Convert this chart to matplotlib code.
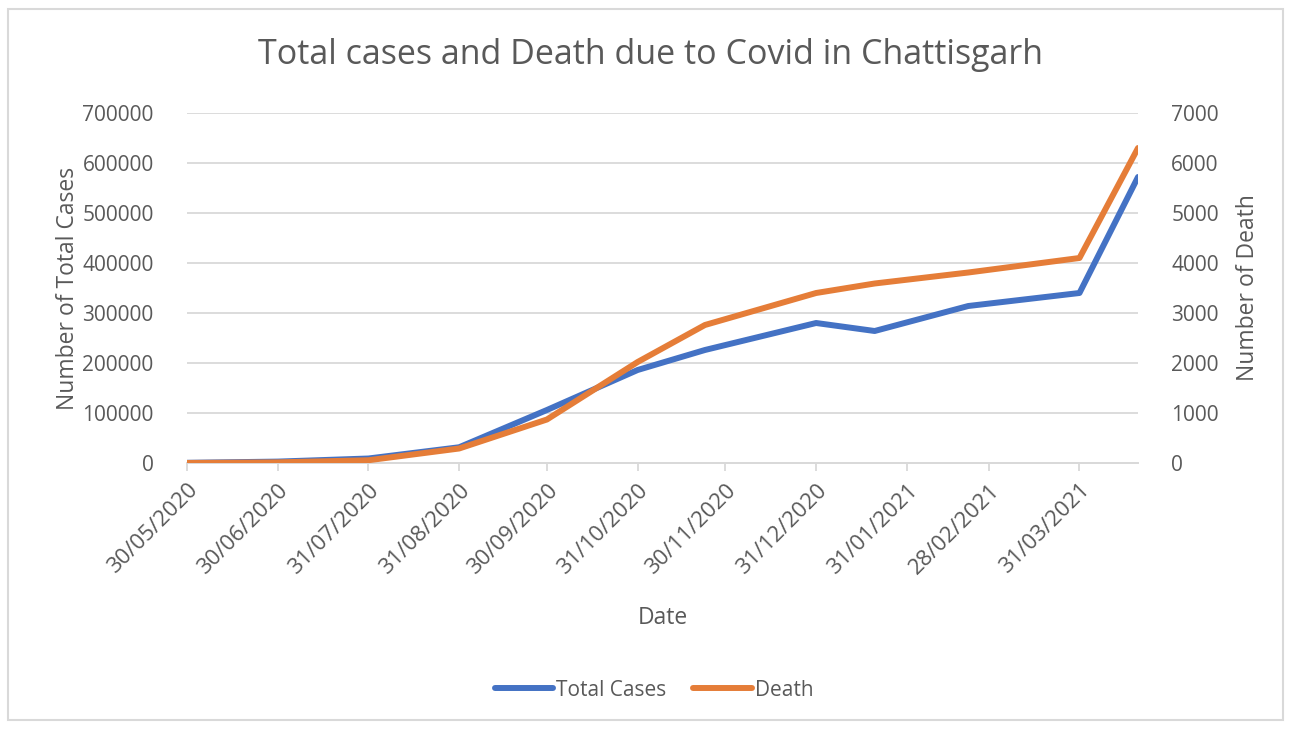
import matplotlib
matplotlib.use("Agg")
import matplotlib.pyplot as plt
import matplotlib.dates as mdates
from matplotlib.patches import Rectangle
from matplotlib.lines import Line2D
import pandas as pd

plt.rcParams['font.family'] = ['Open Sans', 'DejaVu Sans']

dates = ['2020-05-30', '2020-06-30', '2020-07-31', '2020-08-31', '2020-09-30', '2020-10-31',
         '2020-11-23', '2020-12-31', '2021-01-20', '2021-02-21', '2021-03-31', '2021-04-20']
total_cases = [400, 2800, 9000, 31500, 106000, 186000, 226000, 280000, 264000, 314000, 340000, 572000]
deaths = [1, 13, 55, 290, 870, 2020, 2760, 3400, 3590, 3810, 4100, 6300]
tick_dates = ['2020-05-30', '2020-06-30', '2020-07-31', '2020-08-31', '2020-09-30', '2020-10-31',
              '2020-11-30', '2020-12-31', '2021-01-31', '2021-02-28', '2021-03-31']

x = pd.to_datetime(dates)
ticks = pd.to_datetime(tick_dates)

W, H = 1291, 729
fig = plt.figure(figsize=(W / 100, H / 100), dpi=100)
ax = fig.add_axes([187 / W, 1 - 463 / H, (1138 - 187) / W, (463 - 113) / H])
ax2 = ax.twinx()

grey = '#595959'
blue = '#4472C4'
orange = '#E57D38'

ax.plot(x, total_cases, color=blue, lw=4.3, solid_capstyle='round', solid_joinstyle='round', zorder=3)
ax2.plot(x, deaths, color=orange, lw=4.3, solid_capstyle='round', solid_joinstyle='round', zorder=3)

ax.set_ylim(0, 700000)
ax2.set_ylim(0, 7000)
ax.set_yticks(range(0, 700001, 100000))
ax2.set_yticks(range(0, 7001, 1000))
ax.set_xlim(x[0], x[-1])
ax.set_xticks(ticks)
ax.xaxis.set_major_formatter(mdates.DateFormatter('%d/%m/%Y'))

ax.grid(axis='y', color='#D9D9D9', lw=1.3)
ax.set_axisbelow(True)
for a in (ax, ax2):
    for s in ('top', 'left', 'right'):
        a.spines[s].set_visible(False)
    a.spines['bottom'].set_color('#D9D9D9')
    a.spines['bottom'].set_linewidth(1.3)
ax.tick_params(axis='y', length=0, pad=24, labelsize=15, labelcolor=grey)
ax2.tick_params(axis='y', length=0, pad=24, labelsize=15, labelcolor=grey)
ax.tick_params(axis='x', length=6, width=1.3, color='#D9D9D9', labelsize=16, labelcolor=grey, pad=6)
for lbl in ax.get_xticklabels():
    lbl.set_rotation(45)
    lbl.set_ha('right')
    lbl.set_rotation_mode('anchor')

ax.set_ylabel('Number of Total Cases', fontsize=16.5, color=grey, labelpad=2)
ax2.set_ylabel('Number of Death', fontsize=16.5, color=grey, labelpad=12)
fig.text(663 / W, 1 - 618 / H, 'Date', fontsize=16.5, color=grey, ha='center', va='center')
fig.text(651 / W, 1 - 55 / H, 'Total cases and Death due to Covid in Chattisgarh',
         fontsize=24.5, color=grey, ha='center', va='center')

handles = [Line2D([], [], color=blue, lw=4.3, solid_capstyle='round'),
           Line2D([], [], color=orange, lw=4.3, solid_capstyle='round')]
fig.legend(handles, ['Total Cases', 'Death'], loc='center', bbox_to_anchor=(654 / W, 1 - 690 / H),
           ncol=2, frameon=False, fontsize=15, labelcolor=grey, handlelength=2.8,
           handletextpad=0.15, columnspacing=1.3)

fig.patches.append(Rectangle((8 / W, 9 / H), (1283 - 8) / W, (720 - 9) / H, transform=fig.transFigure,
                             fill=False, edgecolor='#D9D9D9', lw=1.5))

fig.savefig('out.png', dpi=100, facecolor='white')
